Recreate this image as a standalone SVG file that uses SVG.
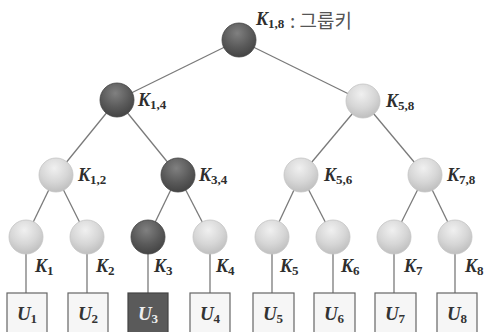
<svg xmlns="http://www.w3.org/2000/svg" width="484" height="332" viewBox="0 0 484 332">
<style>
.edge{stroke:#7a7a7a;stroke-width:1.3;fill:none}
.lt{fill:url(#gl);stroke:#c4c4c4;stroke-width:0.8}
.dk{fill:url(#gd);stroke:#444;stroke-width:0.8}
.k{font-family:"Liberation Serif",serif;font-style:italic;font-weight:bold;font-size:18px;fill:#2e2e2e}
.s{font-size:13px;font-style:normal}
.box{fill:#f6f6f6;stroke:#666;stroke-width:1.2}
.boxd{fill:#5a5a5a;stroke:#444;stroke-width:1.2}
.u{font-family:"Liberation Serif",serif;font-style:italic;font-weight:bold;font-size:19px;fill:#333;text-anchor:middle}
.kr{font-family:"Noto Sans CJK KR",sans-serif;font-size:19px;fill:#555}
</style>
<defs>
<radialGradient id="gl" cx="0.45" cy="0.3" r="0.7">
<stop offset="0" stop-color="#f0f0f0"/>
<stop offset="0.6" stop-color="#d6d6d6"/>
<stop offset="1" stop-color="#bfbfbf"/>
</radialGradient>
<radialGradient id="gd" cx="0.45" cy="0.3" r="0.7">
<stop offset="0" stop-color="#808080"/>
<stop offset="0.6" stop-color="#5a5a5a"/>
<stop offset="1" stop-color="#444"/>
</radialGradient>
</defs>
<g id="connectors">
<line class="edge" x1="239" y1="40" x2="117" y2="100"/>
<line class="edge" x1="239" y1="40" x2="363" y2="101"/>
<line class="edge" x1="117" y1="100" x2="56" y2="175"/>
<line class="edge" x1="117" y1="100" x2="178" y2="175"/>
<line class="edge" x1="363" y1="101" x2="301" y2="175"/>
<line class="edge" x1="363" y1="101" x2="425" y2="175"/>
<line class="edge" x1="56" y1="175" x2="26" y2="237"/>
<line class="edge" x1="56" y1="175" x2="87" y2="237"/>
<line class="edge" x1="178" y1="175" x2="148" y2="237"/>
<line class="edge" x1="178" y1="175" x2="210" y2="237"/>
<line class="edge" x1="301" y1="175" x2="272" y2="237"/>
<line class="edge" x1="301" y1="175" x2="333" y2="237"/>
<line class="edge" x1="425" y1="175" x2="394" y2="237"/>
<line class="edge" x1="425" y1="175" x2="455" y2="237"/>
<line class="edge" x1="26" y1="237" x2="26" y2="293"/>
<line class="edge" x1="87" y1="237" x2="87" y2="293"/>
<line class="edge" x1="148" y1="237" x2="148" y2="293"/>
<line class="edge" x1="210" y1="237" x2="210" y2="293"/>
<line class="edge" x1="272" y1="237" x2="272" y2="293"/>
<line class="edge" x1="333" y1="237" x2="333" y2="293"/>
<line class="edge" x1="394" y1="237" x2="394" y2="293"/>
<line class="edge" x1="455" y1="237" x2="455" y2="293"/>
</g>
<g id="k18"><circle class="dk" cx="239" cy="40" r="17"/><text class="k" x="256" y="25">K<tspan class="s" dy="3">1,8</tspan></text><text class="kr" x="290" y="28">: 그룹키</text></g>
<g id="k14"><circle class="dk" cx="117" cy="100" r="17"/><text class="k" x="138" y="106">K<tspan class="s" dy="3">1,4</tspan></text></g>
<g id="k58"><circle class="lt" cx="363" cy="101" r="17"/><text class="k" x="386" y="107">K<tspan class="s" dy="3">5,8</tspan></text></g>
<g id="k12"><circle class="lt" cx="56" cy="175" r="17"/><text class="k" x="78" y="181">K<tspan class="s" dy="3">1,2</tspan></text></g>
<g id="k34"><circle class="dk" cx="178" cy="175" r="17"/><text class="k" x="199" y="181">K<tspan class="s" dy="3">3,4</tspan></text></g>
<g id="k56"><circle class="lt" cx="301" cy="175" r="17"/><text class="k" x="324" y="181">K<tspan class="s" dy="3">5,6</tspan></text></g>
<g id="k78"><circle class="lt" cx="425" cy="175" r="17"/><text class="k" x="447" y="181">K<tspan class="s" dy="3">7,8</tspan></text></g>
<g id="k1"><circle class="lt" cx="26" cy="237" r="17"/><text class="k" x="35" y="272">K<tspan class="s" dy="3">1</tspan></text></g>
<g id="k2"><circle class="lt" cx="87" cy="237" r="17"/><text class="k" x="96" y="272">K<tspan class="s" dy="3">2</tspan></text></g>
<g id="k3"><circle class="dk" cx="148" cy="237" r="17"/><text class="k" x="154" y="272">K<tspan class="s" dy="3">3</tspan></text></g>
<g id="k4"><circle class="lt" cx="210" cy="237" r="17"/><text class="k" x="216" y="272">K<tspan class="s" dy="3">4</tspan></text></g>
<g id="k5"><circle class="lt" cx="272" cy="237" r="17"/><text class="k" x="280" y="272">K<tspan class="s" dy="3">5</tspan></text></g>
<g id="k6"><circle class="lt" cx="333" cy="237" r="17"/><text class="k" x="341" y="272">K<tspan class="s" dy="3">6</tspan></text></g>
<g id="k7"><circle class="lt" cx="394" cy="237" r="17"/><text class="k" x="404" y="272">K<tspan class="s" dy="3">7</tspan></text></g>
<g id="k8"><circle class="lt" cx="455" cy="237" r="17"/><text class="k" x="465" y="272">K<tspan class="s" dy="3">8</tspan></text></g>
<g id="u1"><rect class="box" x="7" y="293" width="40" height="42"/><text class="u" x="27" y="320">U<tspan class="s" dy="3">1</tspan></text></g>
<g id="u2"><rect class="box" x="68" y="293" width="40" height="42"/><text class="u" x="88" y="320">U<tspan class="s" dy="3">2</tspan></text></g>
<g id="u3"><rect class="boxd" x="128" y="293" width="40" height="42"/><text class="u" x="148" y="320" style="fill:#eee">U<tspan class="s" dy="3">3</tspan></text></g>
<g id="u4"><rect class="box" x="190" y="293" width="40" height="42"/><text class="u" x="210" y="320">U<tspan class="s" dy="3">4</tspan></text></g>
<g id="u5"><rect class="box" x="253" y="293" width="41" height="42"/><text class="u" x="273" y="320">U<tspan class="s" dy="3">5</tspan></text></g>
<g id="u6"><rect class="box" x="314" y="293" width="41" height="42"/><text class="u" x="334" y="320">U<tspan class="s" dy="3">6</tspan></text></g>
<g id="u7"><rect class="box" x="375" y="293" width="41" height="42"/><text class="u" x="395" y="320">U<tspan class="s" dy="3">7</tspan></text></g>
<g id="u8"><rect class="box" x="437" y="293" width="40" height="42"/><text class="u" x="457" y="320">U<tspan class="s" dy="3">8</tspan></text></g>
</svg>
